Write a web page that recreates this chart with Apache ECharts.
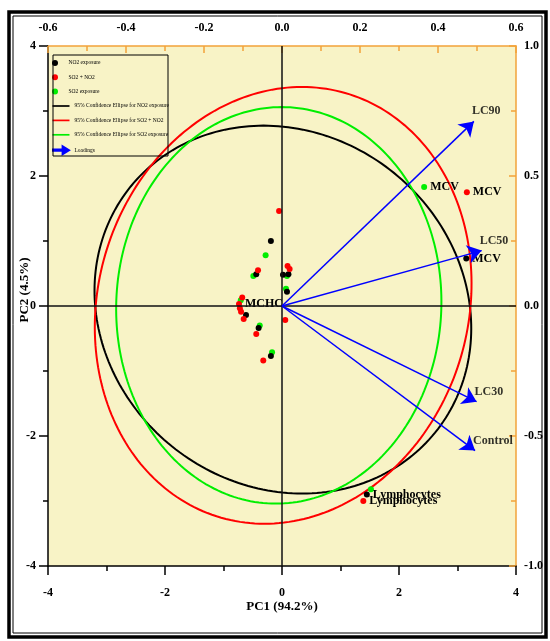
<!DOCTYPE html>
<html>
<head>
<meta charset="utf-8">
<script src="https://cdn.jsdelivr.net/npm/echarts@6/dist/echarts.min.js"></script>
<style>
  html, body { margin: 0; padding: 0; background: #fff; }
  #chart { width: 550px; height: 641px; }
</style>
</head>
<body>
<div id="chart"></div>
<script>
// scores (PC1, PC2) for each exposure group, label = variable name shown on the plot
var no2PC1 = [-0.19, -0.44, 0.017, 0.11, 0.085, -0.615, -0.40, -0.19, 3.15, 1.45];
var no2PC2 = [1.00, 0.49, 0.48, 0.49, 0.22, -0.14, -0.34, -0.77, 0.73, -2.90];
var no2Labels = ['', '', '', '', '', '', '', '', 'MCV', 'Lymphocytes'];

var mixPC1 = [-0.05, -0.41, 0.095, 0.13, -0.68, -0.735, -0.72, -0.70, -0.655, 0.056, -0.44, -0.32, 3.16, 1.39];
var mixPC2 = [1.46, 0.55, 0.615, 0.57, 0.13, 0.03, -0.035, -0.09, -0.20, -0.215, -0.43, -0.84, 1.75, -3.00];
var mixLabels = ['', '', '', '', '', 'MCHC', '', '', '', '', '', '', 'MCV', 'Lymphocytes'];

var so2PC1 = [-0.28, -0.49, 0.085, 0.068, -0.705, -0.38, -0.17, 2.43, 1.52];
var so2PC2 = [0.78, 0.46, 0.46, 0.266, 0.09, -0.30, -0.71, 1.83, -2.82];
var so2Labels = ['', '', '', '', '', '', '', 'MCV', ''];

// loadings (top / right axes)
var loadingNames = ['LC90', 'LC50', 'LC30', 'Control'];
var loadingPC1 = [0.492, 0.512, 0.499, 0.495];
var loadingPC2 = [0.71, 0.213, -0.368, -0.556];

// 95% confidence ellipses: NO2, SO2 + NO2, SO2
var ellipseNames = ['95% Confidence Ellipse for NO2 exposure', '95% Confidence Ellipse for SO2 + NO2', '95% Confidence Ellipse for SO2 exposure'];
var ellipseCenterX = [0.015, 0.02, -0.055];
var ellipseCenterY = [-0.055, 0.01, 0.01];
var ellipseHalfX = [3.22, 3.22, 2.78];
var ellipseHalfY = [2.83, 3.36, 3.05];
var ellipseTopShift = [-0.33, 0.32, 0.05];

var BLACK = '#000000', RED = '#ff0000', GREEN = '#00ee00', BLUE = '#0000ff', ORANGE = '#f2a33a';
var serif = '"Liberation Serif", "Times New Roman", serif';

function pointData(xs, ys, labels) {
  return xs.map(function (x, i) {
    var item = { value: [x, ys[i]], name: labels[i] };
    if (labels[i]) item.label = { show: true };
    return item;
  });
}

function ellipseSeries(i, color) {
  return {
    name: ellipseNames[i],
    type: 'custom',
    xAxisIndex: 0, yAxisIndex: 0,
    itemStyle: { color: color },
    silent: true,
    z: 3,
    data: [[ellipseCenterX[i], ellipseCenterY[i], ellipseHalfX[i], ellipseHalfY[i], ellipseTopShift[i]]],
    encode: { x: 0, y: 1 },
    renderItem: function (params, api) {
      var cx = api.value(0), cy = api.value(1), hx = api.value(2), hy = api.value(3), q = api.value(4);
      var p = Math.sqrt(hx * hx - q * q);
      var pts = [];
      for (var k = 0; k <= 240; k++) {
        var t = k / 240 * Math.PI * 2;
        pts.push(api.coord([cx + p * Math.cos(t) + q * Math.sin(t), cy + hy * Math.sin(t)]));
      }
      return { type: 'polyline', shape: { points: pts }, style: { stroke: color, lineWidth: 2, fill: null } };
    }
  };
}

function scatterSeries(name, color, xs, ys, labels) {
  return {
    name: name,
    type: 'scatter',
    xAxisIndex: 0, yAxisIndex: 0,
    symbolSize: 6,
    itemStyle: { color: color, opacity: 1 },
    z: 4,
    label: {
      show: false, position: 'right', distance: 3,
      formatter: '{b}', color: '#000', fontFamily: serif, fontWeight: 'bold', fontSize: 12
    },
    labelLayout: { hideOverlap: false },
    emphasis: { disabled: true },
    data: pointData(xs, ys, labels)
  };
}

function fmt1(v) { return Math.abs(v) < 1e-9 ? '0.0' : v.toFixed(1); }

var lineIcon = 'path://M0,0L20,0L20,2L0,2Z';
var arrowIcon = 'path://M0,4.2L12,4.2L12,0L20,5L12,10L12,5.8L0,5.8Z';
var labelFont = { color: '#000', fontFamily: serif, fontWeight: 'bold', fontSize: 12 };

var myChart = echarts.init(document.getElementById('chart'));
var option = {
  backgroundColor: '#ffffff',
  animation: false,
  grid: {
    left: 48, right: 34, top: 46, bottom: 75, outerBoundsMode: 'none', containLabel: false,
    show: true, backgroundColor: '#f8f3c6', borderWidth: 0
  },
  legend: [{
    left: 52, top: 59, orient: 'vertical', padding: 0,
    itemWidth: 17, itemHeight: 6, itemGap: 6.3, selectedMode: false,
    textStyle: { fontFamily: serif, fontSize: 5.5, color: '#000', lineHeight: 8 },
    data: [
      { name: 'NO2 exposure', icon: 'circle' },
      { name: 'SO2 + NO2', icon: 'circle' },
      { name: 'SO2 exposure', icon: 'circle' }
    ]
  }, {
    left: 52, top: 102, orient: 'vertical', padding: 0,
    itemWidth: 17, itemHeight: 8, itemGap: 6.4, selectedMode: false,
    textStyle: { fontFamily: serif, fontSize: 5.5, color: '#000', lineHeight: 8 },
    data: [
      { name: ellipseNames[0], icon: lineIcon },
      { name: ellipseNames[1], icon: lineIcon },
      { name: ellipseNames[2], icon: lineIcon },
      { name: 'Loadings', icon: arrowIcon }
    ]
  }],
  xAxis: [{
    type: 'value', position: 'bottom', min: -4, max: 4, interval: 2,
    axisLine: { onZero: false, lineStyle: { color: BLACK, width: 1.5 } },
    axisTick: { inside: false, length: 9, lineStyle: { color: BLACK, width: 1.5 } },
    minorTick: { show: true, splitNumber: 2, length: 5, lineStyle: { color: BLACK, width: 1.5 } },
    splitLine: { show: false },
    axisLabel: Object.assign({ margin: 21 }, labelFont),
    name: 'PC1 (94.2%)', nameLocation: 'middle', nameGap: 34, nameMoveOverlap: false,
    nameTextStyle: { color: '#000', fontFamily: serif, fontWeight: 'bold', fontSize: 13 }
  }, {
    type: 'value', position: 'top', min: -0.6, max: 0.6, interval: 0.2,
    axisLine: { onZero: false, lineStyle: { color: ORANGE, width: 1.5 } },
    axisTick: { inside: true, length: 7, lineStyle: { color: ORANGE, width: 1.5 } },
    minorTick: { show: true, splitNumber: 2, length: 5, lineStyle: { color: ORANGE, width: 1.5 } },
    splitLine: { show: false },
    axisLabel: Object.assign({ margin: 12, formatter: fmt1 }, labelFont)
  }],
  yAxis: [{
    type: 'value', position: 'left', min: -4, max: 4, interval: 2,
    axisLine: { show: true, onZero: false, lineStyle: { color: BLACK, width: 1.5 } },
    axisTick: { show: true, inside: false, length: 9, lineStyle: { color: BLACK, width: 1.5 } },
    minorTick: { show: true, splitNumber: 2, length: 5, lineStyle: { color: BLACK, width: 1.5 } },
    splitLine: { show: false },
    axisLabel: Object.assign({ margin: 12 }, labelFont),
    name: 'PC2 (4.5%)', nameLocation: 'middle', nameGap: 17, nameMoveOverlap: false,
    nameTextStyle: { color: '#000', fontFamily: serif, fontWeight: 'bold', fontSize: 13, padding: [0, 0, 0, 32] }
  }, {
    type: 'value', position: 'right', min: -1, max: 1, interval: 0.5,
    axisLine: { show: true, onZero: false, lineStyle: { color: ORANGE, width: 1.5 } },
    axisTick: { show: true, inside: true, length: 7, lineStyle: { color: ORANGE, width: 1.5 } },
    minorTick: { show: true, splitNumber: 2, length: 5, lineStyle: { color: ORANGE, width: 1.5 } },
    splitLine: { show: false },
    axisLabel: Object.assign({ margin: 8, formatter: fmt1 }, labelFont)
  }],
  graphic: [
    { type: 'rect', shape: { x: 9, y: 12, width: 537, height: 625 }, style: { fill: null, stroke: '#000', lineWidth: 3.5 }, silent: true },
    { type: 'rect', shape: { x: 13, y: 16, width: 529, height: 617 }, style: { fill: null, stroke: '#000', lineWidth: 1 }, silent: true },
    { type: 'rect', shape: { x: 53, y: 55, width: 115, height: 101 }, style: { fill: null, stroke: '#000', lineWidth: 1 }, z: 10, silent: true }
  ],
  series: [
    {
      name: 'zero', type: 'scatter', xAxisIndex: 0, yAxisIndex: 0, data: [], z: 2,
      markLine: {
        silent: true, symbol: 'none', label: { show: false },
        lineStyle: { color: '#111', width: 1.5, type: 'solid' },
        data: [{ xAxis: 0 }, { yAxis: 0 }]
      }
    },
    ellipseSeries(0, BLACK),
    ellipseSeries(1, RED),
    ellipseSeries(2, GREEN),
    scatterSeries('SO2 exposure', GREEN, so2PC1, so2PC2, so2Labels),
    scatterSeries('NO2 exposure', BLACK, no2PC1, no2PC2, no2Labels),
    scatterSeries('SO2 + NO2', RED, mixPC1, mixPC2, mixLabels),
    {
      name: 'Loadings', type: 'lines', coordinateSystem: 'cartesian2d',
      xAxisIndex: 1, yAxisIndex: 1, z: 5,
      symbol: ['none', 'arrow'], symbolSize: 14,
      itemStyle: { color: BLUE },
      lineStyle: { color: BLUE, width: 1.5, opacity: 1 },
      data: loadingNames.map(function (n, i) {
        return { name: n, coords: [[0, 0], [loadingPC1[i], loadingPC2[i]]] };
      })
    },
    {
      name: 'loading labels', type: 'scatter', xAxisIndex: 1, yAxisIndex: 1, z: 6,
      symbolSize: 0, silent: true,
      label: Object.assign({ show: true, position: 'right', distance: 0, offset: [-2, -10], formatter: '{b}' }, labelFont),
      data: loadingNames.map(function (n, i) { return { name: n, value: [loadingPC1[i], loadingPC2[i]] }; })
    }
  ]
};
myChart.setOption(option);
</script>
</body>
</html>
